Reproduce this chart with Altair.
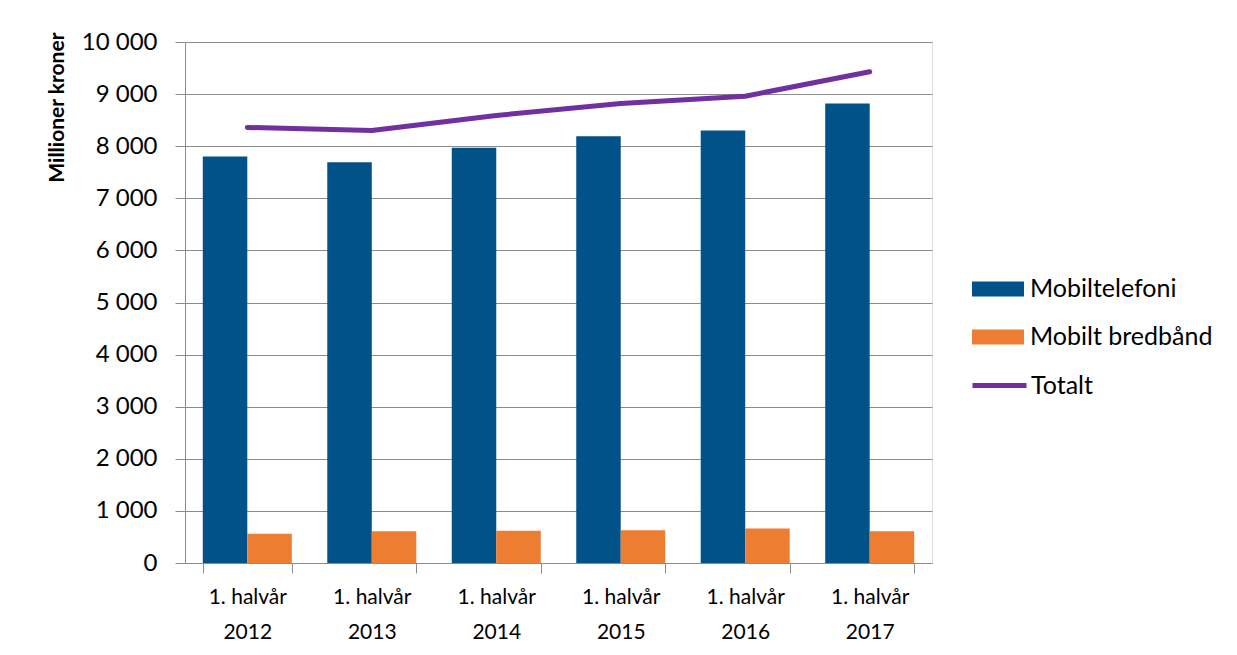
import altair as alt
import pandas as pd

categories = ["1. halvår 2012", "1. halvår 2013", "1. halvår 2014",
              "1. halvår 2015", "1. halvår 2016", "1. halvår 2017"]
series_bars = ["Mobiltelefoni", "Mobilt bredbånd"]
mobiltelefoni = [7800, 7690, 7970, 8190, 8300, 8820]
mobilt_bredband = [560, 610, 620, 630, 660, 610]
totalt = [8360, 8300, 8590, 8820, 8960, 9430]
line_series = ["Totalt"]

bar_colors = ["#02528A", "#ED7D31"]
line_color = "#7030A0"
grid_color = "#8C8C8C"
FONT = "Lato"

bars_df = pd.DataFrame({
    "kategori": categories * 2,
    "serie": [series_bars[0]] * len(categories) + [series_bars[1]] * len(categories),
    "verdi": mobiltelefoni + mobilt_bredband,
})
line_df = pd.DataFrame({
    "kategori": categories,
    "serie": line_series * len(categories),
    "verdi": totalt,
})

x_enc = alt.X(
    "kategori:N",
    sort=categories,
    scale=alt.Scale(paddingInner=0.285, paddingOuter=0.143),
    axis=alt.Axis(
        title=None,
        labelExpr="[slice(datum.label, 0, 9), slice(datum.label, 10)]",
        labelAngle=0,
        labelFont=FONT,
        labelFontSize=21,
        labelColor="#000000",
        labelLineHeight=35,
        labelPadding=13,
        labelBaseline="top",
        tickBand="extent",
        tickSize=10,
        tickColor=grid_color,
        domainColor=grid_color,
        grid=False,
    ),
)

y_scale = alt.Scale(domain=[0, 10000])
y_axis = alt.Axis(
    title="Millioner kroner",
    titleFont=FONT,
    titleFontSize=21,
    titleFontWeight="bold",
    titleColor="#000000",
    titleAngle=270,
    titleAlign="right",
    titleBaseline="alphabetic",
    titleX=-122,
    titleY=-10,
    values=list(range(0, 10001, 1000)),
    labelExpr="replace(format(datum.value, ','), ',', ' ')",
    labelFont=FONT,
    labelFontSize=24,
    labelColor="#000000",
    labelPadding=18,
    tickSize=10,
    tickColor=grid_color,
    domainColor=grid_color,
    gridColor=grid_color,
    gridWidth=1,
)

bars = alt.Chart(bars_df).mark_bar().encode(
    x=x_enc,
    xOffset=alt.XOffset("serie:N", sort=series_bars, scale=alt.Scale(paddingInner=0, paddingOuter=0)),
    y=alt.Y("verdi:Q", scale=y_scale, axis=y_axis),
    fill=alt.Fill(
        "serie:N",
        scale=alt.Scale(domain=series_bars, range=bar_colors),
        legend=alt.Legend(
            title=None,
            orient="none",
            legendX=787,
            legendY=221,
            padding=0,
            symbolType="M-1,-0.29L1,-0.29L1,0.29L-1,0.29Z",
            symbolSize=2704,
            symbolStrokeWidth=0,
            labelFont=FONT,
            labelFontSize=25,
            labelColor="#000000",
            labelOffset=6,
            labelLimit=400,
            rowPadding=9,
        ),
    ),
)

line = alt.Chart(line_df).mark_line(strokeWidth=5, strokeCap="round", strokeJoin="round").encode(
    x=alt.X("kategori:N", sort=categories),
    y=alt.Y("verdi:Q", scale=y_scale),
    stroke=alt.Stroke(
        "serie:N",
        scale=alt.Scale(domain=line_series, range=[line_color]),
        legend=alt.Legend(
            title=None,
            orient="none",
            legendX=785,
            legendY=314,
            padding=0,
            symbolType="stroke",
            symbolSize=2916,
            symbolStrokeWidth=5,
            labelFont=FONT,
            labelFontSize=25,
            labelColor="#000000",
            labelOffset=2,
            labelLimit=400,
        ),
    ),
)

chart = alt.layer(bars, line).properties(
    width=747,
    height=521,
    autosize=alt.AutoSizeParams(type="none"),
    padding={"left": 177, "top": 34, "right": 297, "bottom": 84},
).configure_view(stroke=None).configure(background="#FFFFFF")

chart.save("out.html", embed_options={"renderer": "svg", "actions": False})
